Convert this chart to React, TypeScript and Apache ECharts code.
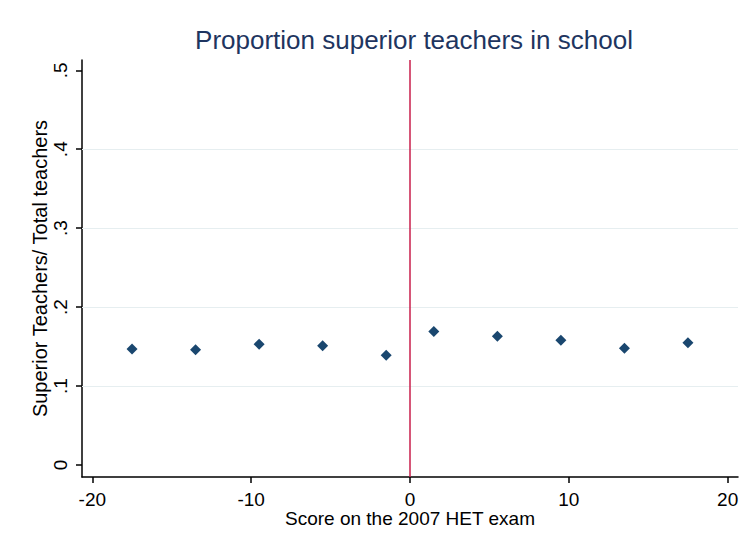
import React, { useEffect, useRef } from "react";
import * as echarts from "echarts";

const xValues = [-17.5, -13.5, -9.5, -5.5, -1.5, 1.5, 5.5, 9.5, 13.5, 17.5];
const yValues = [0.147, 0.146, 0.153, 0.151, 0.139, 0.169, 0.163, 0.158, 0.148, 0.155];
const xTicks = [-20, -10, 0, 10, 20];
const yTicks = [0, 0.1, 0.2, 0.3, 0.4, 0.5];
const gridValues = [0.1, 0.2, 0.3, 0.4];
const cutoff = 0;

export default function App() {
  const ref = useRef<HTMLDivElement>(null);
  useEffect(() => {
    if (!ref.current) return;
    const chart = echarts.init(ref.current, undefined, { renderer: "svg" });
    const font = "'Liberation Sans', Arial, sans-serif";
    chart.setOption({
      animation: false,
      backgroundColor: "#ffffff",
      title: {
        text: "Proportion superior teachers in school",
        left: 409,
        textAlign: "center",
        top: 22,
        textStyle: { color: "#1e3560", fontSize: 26, fontWeight: "normal", fontFamily: font },
      },
      grid: { left: 82, right: 9, top: 60, bottom: 69 },
      xAxis: {
        type: "value",
        min: -20.65,
        max: 20.65,
        name: "Score on the 2007 HET exam",
        nameLocation: "middle",
        nameGap: 32,
        nameMoveOverlap: false,
        nameTextStyle: { color: "#000", fontSize: 19, fontFamily: font },
        axisLine: { show: true, onZero: false, lineStyle: { color: "#000", width: 1.5 } },
        axisTick: { show: true, length: 6, customValues: xTicks, lineStyle: { color: "#000", width: 1.5 } },
        axisLabel: { customValues: xTicks, color: "#000", fontSize: 19, fontFamily: font, margin: 13 },
        splitLine: { show: false },
      },
      yAxis: {
        type: "value",
        min: -0.0152,
        max: 0.513,
        name: "Superior Teachers/ Total teachers",
        nameLocation: "middle",
        nameGap: 32,
        nameMoveOverlap: false,
        nameTextStyle: { color: "#000", fontSize: 20, fontFamily: font },
        axisLine: { show: true, onZero: false, lineStyle: { color: "#000", width: 1.5 } },
        axisTick: { show: true, length: 6, customValues: yTicks, lineStyle: { color: "#000", width: 1.5 } },
        axisLabel: {
          customValues: yTicks,
          rotate: 90,
          color: "#000",
          fontSize: 19,
          fontFamily: font,
          margin: 12,
          formatter: (v: number) => (v === 0 ? "0" : String(Math.round(v * 10) / 10).replace(/^0\./, ".")),
        },
        splitLine: { show: false },
      },
      series: [
        {
          type: "scatter",
          data: xValues.map((x, i) => [x, yValues[i]]),
          symbol: "diamond",
          symbolSize: 11,
          itemStyle: { color: "#1a476f", opacity: 1 },
          markLine: {
            silent: true,
            symbol: "none",
            label: { show: false },
            data: [
              ...gridValues.map((v) => ({ yAxis: v, lineStyle: { color: "#e6eef0", width: 1, type: "solid" } })),
              { xAxis: cutoff, lineStyle: { color: "#c81e4b", width: 1.5, type: "solid" } },
            ],
          },
          z: 3,
        },
      ],
    });
    return () => chart.dispose();
  }, []);
  return <div ref={ref} style={{ width: 747, height: 546, margin: -8 }} />;
}
